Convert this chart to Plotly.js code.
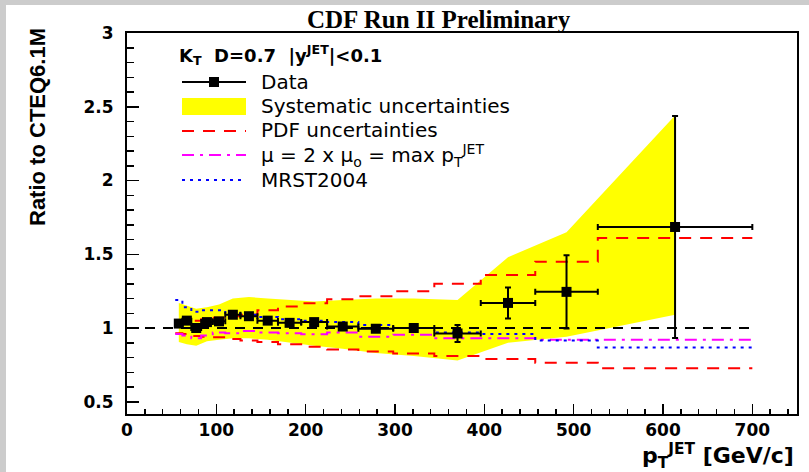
<!DOCTYPE html>
<html>
<head>
<meta charset="utf-8">
<script src="https://cdn.plot.ly/plotly-3.0.1.min.js"></script>
<style>
  html, body { margin: 0; padding: 0; background: #cccccc; width: 809px; height: 472px; overflow: hidden; }
  #chart { position: absolute; left: 6px; top: 5px; width: 803px; height: 467px; background: #ffffff; }
</style>
</head>
<body>
<div id="chart"></div>
<script>
// ---- data ----
const binEdges   = [54, 62, 72, 83, 96, 110, 127, 146, 169, 195, 224, 259, 298, 344, 396, 457, 527, 700];
const ptCenters  = [58, 67, 77.5, 89.5, 103, 118.5, 136.5, 157.5, 182, 209.5, 241.5, 278.5, 321, 370, 426.5, 492, 613.5];
const ratioData  = [1.03, 1.05, 1.00, 1.04, 1.045, 1.09, 1.08, 1.05, 1.035, 1.04, 1.01, 0.995, 1.00, 0.963, 1.17, 1.245, 1.685];
const statErr    = [0.015, 0.012, 0.012, 0.012, 0.012, 0.012, 0.012, 0.012, 0.013, 0.015, 0.018, 0.02, 0.025, 0.058, 0.105, 0.248, 0.752];
const sysUpper   = [1.17, 1.15, 1.13, 1.14, 1.16, 1.20, 1.21, 1.20, 1.19, 1.18, 1.19, 1.20, 1.20, 1.19, 1.48, 1.65, 2.44];
const sysLower   = [0.905, 0.89, 0.88, 0.91, 0.92, 0.93, 0.93, 0.92, 0.90, 0.88, 0.86, 0.83, 0.81, 0.78, 0.90, 0.94, 1.09];
const pdfUpper   = [1.04, 1.045, 1.05, 1.06, 1.07, 1.08, 1.09, 1.12, 1.145, 1.167, 1.195, 1.215, 1.25, 1.30, 1.36, 1.45, 1.61];
const pdfLower   = [0.965, 0.96, 0.945, 0.94, 0.937, 0.925, 0.915, 0.905, 0.89, 0.873, 0.855, 0.84, 0.828, 0.81, 0.79, 0.765, 0.727];
const scaleMu    = [0.96, 0.95, 0.93, 0.95, 0.97, 0.965, 0.98, 0.97, 0.965, 0.957, 0.97, 0.94, 0.955, 0.93, 0.93, 0.92, 0.92];
const mrst2004   = [1.19, 1.14, 1.11, 1.12, 1.12, 1.10, 1.09, 1.075, 1.06, 1.05, 1.04, 1.02, 1.00, 0.97, 0.96, 0.915, 0.867];
const refLineX   = [0, 700];
const refLineY   = [1, 1];
const xTicks     = [0, 100, 200, 300, 400, 500, 600, 700];
const yTicks     = [0.5, 1, 1.5, 2, 2.5, 3];

// ---- helpers ----
const stepY = v => v.concat([v[v.length - 1]]);
const errLow  = ptCenters.map((c, i) => c - binEdges[i]);
const errHigh = ptCenters.map((c, i) => binEdges[i + 1] - c);

const traces = [
  { // systematic band
    x: ptCenters.concat(ptCenters.slice().reverse()),
    y: sysUpper.concat(sysLower.slice().reverse()),
    type: 'scatter', mode: 'lines', fill: 'toself',
    fillcolor: '#ffff00', line: { width: 0, color: '#ffff00' },
    showlegend: false, hoverinfo: 'skip'
  },
  { x: binEdges, y: stepY(pdfUpper), type: 'scatter', mode: 'lines',
    line: { shape: 'hv', color: '#ff0000', width: 2, dash: '12px,9px' }, showlegend: false },
  { x: binEdges, y: stepY(pdfLower), type: 'scatter', mode: 'lines',
    line: { shape: 'hv', color: '#ff0000', width: 2, dash: '12px,9px' }, showlegend: false },
  { x: binEdges, y: stepY(scaleMu), type: 'scatter', mode: 'lines',
    line: { shape: 'hv', color: '#ff00ff', width: 2, dash: '12px,6px,3px,6px' }, showlegend: false },
  { x: binEdges, y: stepY(mrst2004), type: 'scatter', mode: 'lines',
    line: { shape: 'hv', color: '#0000ff', width: 2, dash: '3px,5px' }, showlegend: false },
  { x: refLineX, y: refLineY, type: 'scatter', mode: 'lines',
    line: { color: '#000000', width: 2, dash: '10px,8px' }, showlegend: false },
  { // data
    x: ptCenters, y: ratioData, type: 'scatter', mode: 'markers',
    marker: { symbol: 'square', size: 10, color: '#000000' },
    error_y: { type: 'data', array: statErr, visible: true, color: '#000000', thickness: 2, width: 3 },
    error_x: { type: 'data', symmetric: false, array: errHigh, arrayminus: errLow, visible: true, color: '#000000', thickness: 2, width: 3 },
    showlegend: false
  }
];

// pixel -> paper helpers (plot area is 127..797 x 33..414 in the window)
const PX = X => (X - 127) / 670;
const PY = Y => (414 - Y) / 381;

const legFont = { family: 'DejaVu Sans, Arial, sans-serif', size: 20, color: '#000000' };
const shapes = [
  { type: 'line', xref: 'paper', yref: 'paper', x0: PX(182), x1: PX(246), y0: PY(82), y1: PY(82), line: { color: '#000', width: 2 } },
  { type: 'rect', xref: 'paper', yref: 'paper', x0: PX(209), x1: PX(219), y0: PY(77), y1: PY(87), fillcolor: '#000', line: { width: 0 } },
  { type: 'rect', xref: 'paper', yref: 'paper', x0: PX(182), x1: PX(246), y0: PY(98), y1: PY(115), fillcolor: '#ffff00', line: { width: 0 } },
  { type: 'line', xref: 'paper', yref: 'paper', x0: PX(182), x1: PX(246), y0: PY(131), y1: PY(131), line: { color: '#ff0000', width: 2, dash: '12px,9px' } },
  { type: 'line', xref: 'paper', yref: 'paper', x0: PX(182), x1: PX(246), y0: PY(155), y1: PY(155), line: { color: '#ff00ff', width: 2, dash: '12px,6px,3px,6px' } },
  { type: 'line', xref: 'paper', yref: 'paper', x0: PX(182), x1: PX(246), y0: PY(180), y1: PY(180), line: { color: '#0000ff', width: 2, dash: '3px,5px' } }
];

const annotations = [
  { text: '<b>CDF Run II Preliminary</b>', xref: 'paper', yref: 'paper', x: PX(439), y: PY(20),
    xanchor: 'center', yanchor: 'middle', showarrow: false,
    font: { family: 'Liberation Serif, Times New Roman, serif', size: 25, color: '#000' } },
  { text: '<b>K<sub>T</sub>\u00a0\u00a0D=0.7\u00a0\u00a0|y<sup>JET</sup>|&lt;0.1</b>', xref: 'paper', yref: 'paper',
    x: PX(177), y: PY(55), xanchor: 'left', yanchor: 'middle', showarrow: false,
    font: { family: 'DejaVu Sans, Arial, sans-serif', size: 18, color: '#000' } },
  { text: 'Data', xref: 'paper', yref: 'paper', x: PX(259), y: PY(82), xanchor: 'left', yanchor: 'middle', showarrow: false, font: legFont },
  { text: 'Systematic uncertainties', xref: 'paper', yref: 'paper', x: PX(259), y: PY(106), xanchor: 'left', yanchor: 'middle', showarrow: false, font: legFont },
  { text: 'PDF uncertainties', xref: 'paper', yref: 'paper', x: PX(259), y: PY(130), xanchor: 'left', yanchor: 'middle', showarrow: false, font: legFont },
  { text: 'μ = 2 x μ<sub>o</sub> = max p<sub>T</sub><sup>JET</sup>', xref: 'paper', yref: 'paper', x: PX(259), y: PY(155), xanchor: 'left', yanchor: 'middle', showarrow: false, font: legFont },
  { text: 'MRST2004', xref: 'paper', yref: 'paper', x: PX(259), y: PY(180), xanchor: 'left', yanchor: 'middle', showarrow: false, font: legFont },
  { text: '<b>Ratio to CTEQ6.1M</b>', xref: 'paper', yref: 'paper', x: PX(38), y: PY(127), textangle: -90,
    xanchor: 'center', yanchor: 'middle', showarrow: false,
    font: { family: 'Liberation Sans, Arial, sans-serif', size: 22, color: '#000' } },
  { text: '<b>p<sub>T</sub><sup>JET</sup> [GeV/c]</b>', xref: 'paper', yref: 'paper', x: PX(796), y: PY(456),
    xanchor: 'right', yanchor: 'middle', showarrow: false,
    font: { family: 'DejaVu Sans, Arial, sans-serif', size: 22, color: '#000' } }
];

const tickFont = { family: 'DejaVu Sans, Arial, sans-serif', size: 17, weight: 'bold', color: '#000' };

const layout = {
  width: 803, height: 467,
  margin: { l: 121, r: 12, t: 28, b: 58, pad: 0 },
  paper_bgcolor: '#ffffff', plot_bgcolor: '#ffffff',
  showlegend: false,
  xaxis: {
    range: [0, 750], tickvals: xTicks, ticktext: xTicks.map(String),
    ticks: 'inside', ticklen: 10, tickwidth: 1.5, tickcolor: '#000',
    minor: { dtick: 20, tick0: 0, ticks: 'inside', ticklen: 5, tickwidth: 1.5, tickcolor: '#000', showgrid: false },
    showline: true, linecolor: '#000', linewidth: 2, mirror: true,
    showgrid: false, zeroline: false, tickfont: tickFont, ticklabelstandoff: 0
  },
  yaxis: {
    range: [0.417, 3], tickvals: yTicks, ticktext: ['0.5', '1', '1.5', '2', '2.5', '3'],
    ticks: 'inside', ticklen: 12, tickwidth: 1.5, tickcolor: '#000',
    minor: { dtick: 0.1, tick0: 0.5, ticks: 'inside', ticklen: 7, tickwidth: 1.5, tickcolor: '#000', showgrid: false },
    showline: true, linecolor: '#000', linewidth: 2, mirror: true,
    showgrid: false, zeroline: false, tickfont: tickFont, ticklabelstandoff: 8
  },
  shapes: shapes,
  annotations: annotations
};

Plotly.newPlot('chart', traces, layout, { staticPlot: true, displayModeBar: false });
</script>
</body>
</html>
